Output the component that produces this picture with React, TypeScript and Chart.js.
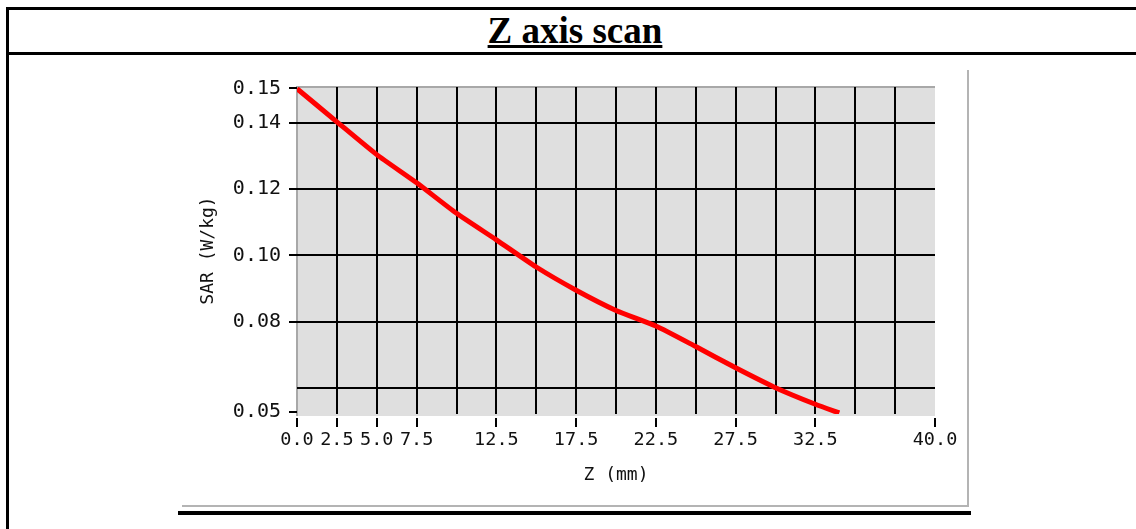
import React, { useEffect, useRef } from "react";
import { Chart, registerables } from "chart.js";

Chart.register(...registerables);

// ---- data ----
const zValues = [0, 2.5, 5, 7.5, 10, 12.5, 15, 17.5, 20, 22.5, 25, 27.5, 30, 32.5, 34];
const sarValues = [0.1503, 0.1403, 0.1304, 0.1219, 0.1127, 0.1047, 0.0965, 0.0895, 0.0834, 0.0787, 0.0725, 0.0661, 0.0601, 0.0551, 0.0525];

const xGridValues = [0, 2.5, 5, 7.5, 10, 12.5, 15, 17.5, 20, 22.5, 25, 27.5, 30, 32.5, 35, 37.5, 40];
const xTickValues = [0, 2.5, 5, 7.5, 12.5, 17.5, 22.5, 27.5, 32.5, 40];
const xTickLabels = ["0.0", "2.5", "5.0", "7.5", "12.5", "17.5", "22.5", "27.5", "32.5", "40.0"];

const yTickValues = [0.0528, 0.06, 0.08, 0.1, 0.12, 0.14, 0.1504];
const yTickLabels = ["0.05", "", "0.08", "0.10", "0.12", "0.14", "0.15"];
const yGridValues = [0.06, 0.08, 0.1, 0.12, 0.14];

const xMin = 0;
const xMax = 40;
const yMin = 0.05216;
const yMax = 0.1508;

const TITLE = "Z axis scan";
const X_TITLE = "Z (mm)";
const Y_TITLE = "SAR (W/kg)";

const MONO = '"DejaVu Sans Mono", "Liberation Mono", monospace';
const CLEAR = "rgba(0,0,0,0)";

const plotFrame = {
  id: "plotFrame",
  beforeDraw(chart: any) {
    const { ctx, chartArea: a } = chart;
    ctx.save();
    ctx.fillStyle = "#dfdfdf";
    ctx.fillRect(a.left, a.top, a.right - a.left, a.bottom - a.top + 2);
    ctx.fillStyle = "#a8a8a8";
    ctx.fillRect(a.left - 1, a.top - 1, a.right - a.left + 1, 2);
    ctx.fillRect(a.left - 1, a.top - 1, 2, a.bottom - a.top + 3);
    ctx.restore();
  },
};

function SarChart() {
  const ref = useRef<HTMLCanvasElement>(null);
  useEffect(() => {
    const chart = new Chart(ref.current as HTMLCanvasElement, {
      type: "line",
      data: {
        datasets: [
          {
            data: zValues.map((z, i) => ({ x: z, y: sarValues[i] })),
            borderColor: "#ff0000",
            borderWidth: 5,
            pointRadius: 0,
            tension: 0.2,
            fill: false,
          },
        ],
      },
      options: {
        animation: false,
        responsive: false,
        devicePixelRatio: 1,
        layout: { padding: { left: 0, top: 17, right: 32, bottom: 0 } },
        plugins: { legend: { display: false }, tooltip: { enabled: false } },
        scales: {
          x: {
            type: "linear",
            min: xMin,
            max: xMax,
            afterFit: (s: any) => {
              s.height = 91;
            },
            afterBuildTicks: (s: any) => {
              s.ticks = xGridValues.map((v) => ({ value: v }));
            },
            border: { display: false },
            grid: {
              lineWidth: 2,
              color: (c: any) => (c.tick && c.tick.value > xMin && c.tick.value < xMax ? "#000" : CLEAR),
              tickColor: (c: any) => (c.tick && xTickValues.indexOf(c.tick.value) >= 0 ? "#000" : CLEAR),
              tickWidth: 2,
              tickLength: 13,
              tickBorderDash: [0, 4, 100, 0],
            },
            ticks: {
              autoSkip: false,
              maxRotation: 0,
              minRotation: 0,
              padding: 2,
              color: "#111",
              font: { family: MONO, size: 18.5 },
              callback: (v: any) => {
                const i = xTickValues.indexOf(Number(v));
                return i >= 0 ? xTickLabels[i] : "";
              },
            },
            title: {
              display: true,
              text: X_TITLE,
              color: "#111",
              font: { family: MONO, size: 18 },
              padding: { top: 0, bottom: 19 },
            },
          },
          y: {
            type: "linear",
            min: yMin,
            max: yMax,
            afterFit: (s: any) => {
              s.width = 115;
            },
            afterBuildTicks: (s: any) => {
              s.ticks = yTickValues.map((v) => ({ value: v }));
            },
            border: { display: false },
            grid: {
              lineWidth: 2,
              color: (c: any) => (c.tick && yGridValues.indexOf(c.tick.value) >= 0 ? "#000" : CLEAR),
              tickColor: (c: any) => (yTickLabels[c.index] ? "#000" : CLEAR),
              tickWidth: 2,
              tickLength: 12,
              tickBorderDash: [0, 4, 100, 0],
            },
            ticks: {
              autoSkip: false,
              padding: 4,
              color: "#111",
              font: { family: MONO, size: 20 },
              callback: (_v: any, i: number) => yTickLabels[i],
            },
            title: {
              display: true,
              text: Y_TITLE,
              color: "#111",
              font: { family: MONO, size: 18 },
              padding: { top: 16, bottom: 0 },
            },
          },
        },
      },
      plugins: [plotFrame],
    } as any);
    return () => chart.destroy();
  }, []);
  return <canvas ref={ref} width={785} height={435} style={{ display: "block", width: 785, height: 435 }} />;
}

export default function App() {
  return (
    <div
      style={{
        position: "absolute",
        left: 0,
        top: 0,
        width: 1136,
        height: 529,
        overflow: "hidden",
        background: "#fff",
      }}
    >
      <div style={{ position: "absolute", left: 6, top: 7, width: 1140, height: 3, background: "#000" }} />
      <div style={{ position: "absolute", left: 6, top: 7, width: 3, height: 530, background: "#000" }} />
      <div style={{ position: "absolute", left: 6, top: 52, width: 1140, height: 3, background: "#000" }} />
      <div
        style={{
          position: "absolute",
          left: 9,
          top: 12,
          width: 1132,
          textAlign: "center",
          fontFamily: '"Liberation Serif", "Times New Roman", serif',
          fontWeight: "bold",
          fontSize: 37,
          lineHeight: "37px",
          color: "#000",
        }}
      >
        <span
          style={{
            textDecoration: "underline",
            textDecorationThickness: "3px",
            textUnderlineOffset: "2px",
          }}
        >
          {TITLE}
        </span>
      </div>
      <div
        style={{
          position: "absolute",
          left: 182,
          top: 70,
          width: 785,
          height: 435,
          borderRight: "2px solid #b4b4b4",
          borderBottom: "2px solid #b4b4b4",
          background: "#fff",
        }}
      >
        <SarChart />
      </div>
      <div style={{ position: "absolute", left: 178, top: 511, width: 793, height: 4, background: "#000" }} />
    </div>
  );
}
